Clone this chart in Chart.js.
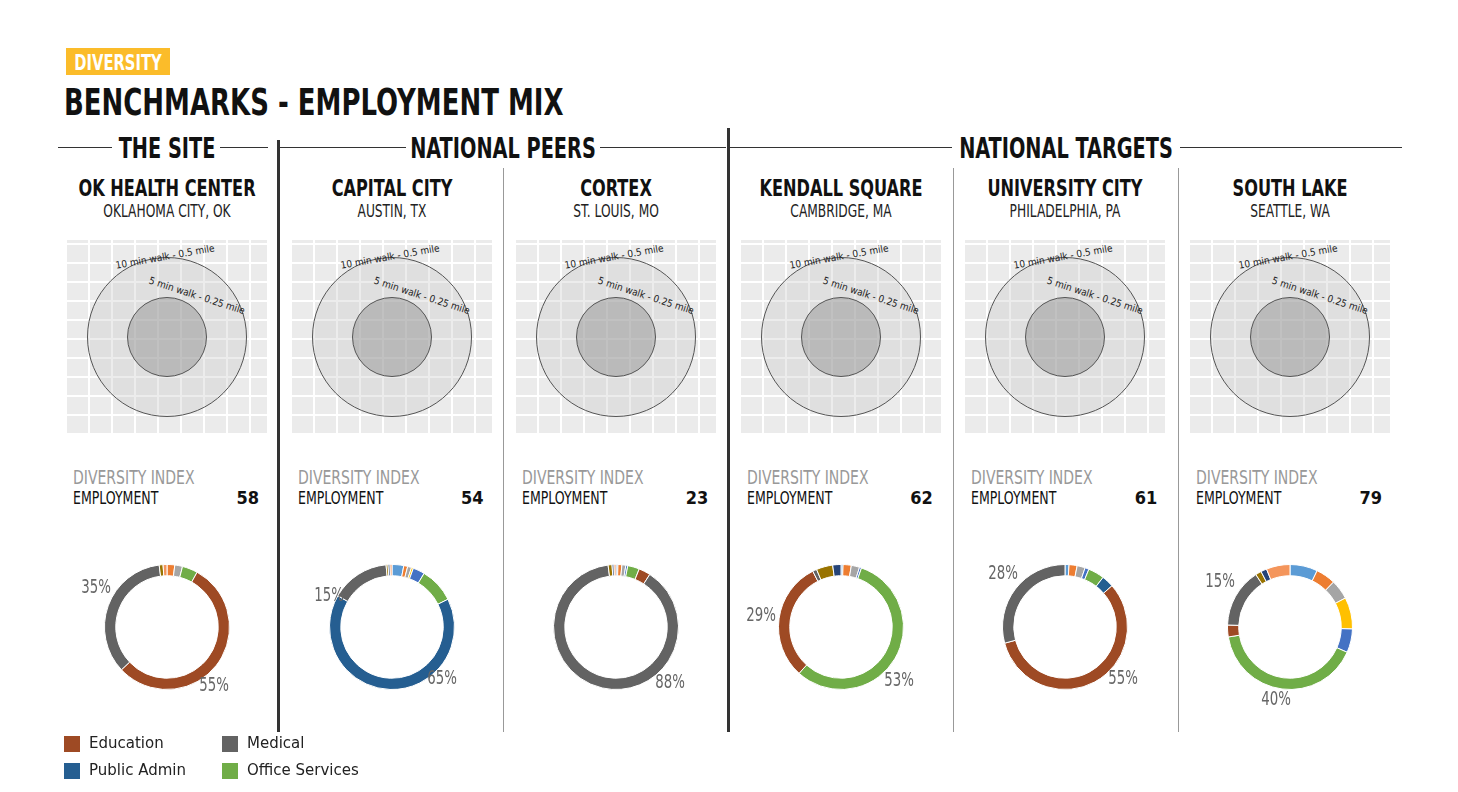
<!DOCTYPE html>
<html><head><meta charset="utf-8">
<script src="https://cdn.jsdelivr.net/npm/chart.js@4"></script>
<style>
body{margin:0;width:1458px;height:792px;background:#fff;position:relative;font-family:"Liberation Sans Narrow","DejaVu Sans Condensed","Roboto",sans-serif;overflow:hidden}
.a{position:absolute;white-space:nowrap}
.tag{left:66px;top:48px;width:104px;height:27px;background:#fbbc2a}
.tagt{left:118px;top:49px;color:#fff;font-weight:bold;font-size:21px;line-height:28px;transform:translateX(-50%) scaleX(.78)}
.title{left:64px;top:80px;font-size:38px;font-weight:bold;color:#111;transform-origin:0 0;transform:scaleX(.76)}
.sec{top:131px;font-size:29px;font-weight:bold;color:#111;transform:translateX(-50%) scaleX(.74)}
.hl{height:1px;background:#333;top:147px}
.vl{width:1px;background:#999}
.vt{width:3px;background:#333}
.name{top:175px;font-size:23px;font-weight:bold;color:#111;transform:translateX(-50%) scaleX(.78)}
.sub{top:201px;font-size:17px;color:#222;transform:translateX(-50%) scaleX(.8)}
.map{width:200px;height:193px;top:240px;background:#e9e9e9;
 background-image:repeating-linear-gradient(0deg,transparent 0 17px,#fff 17px 19px),repeating-linear-gradient(90deg,transparent 0 21px,#fff 21px 23px);opacity:.9}
.circ{border-radius:50%;border:1px solid #555;box-sizing:border-box}
.di{top:466px;font-size:19px;color:#999;transform-origin:0 0;transform:scaleX(.82)}
.emp{top:488px;font-size:17px;color:#111;transform-origin:0 0;transform:scaleX(.82)}
.num{top:487px;font-size:18px;font-weight:bold;color:#111;width:40px;text-align:right}
.pct{font-size:19px;color:#666;transform:translate(-50%,-50%) scaleX(.78)}
.lg{font-family:"DejaVu Sans",sans-serif;font-size:15px;color:#222}
.sw{width:16px;height:16px}
.walk{font-size:10px;color:#222}
</style></head><body>
<div class="a tag"></div>
<div class="a tagt">DIVERSITY</div>
<div class="a title">BENCHMARKS - EMPLOYMENT MIX</div>
<div id="root"></div>
<script>
// category order follows the donut order clockwise from 12 o'clock
const categories = ["Other 1","Other 2","Other 3","Other 4","Other 5","Office Services","Public Admin","Education","Medical","Other 6","Other 7","Other 8"];
const catColors = ["#5b9bd5","#ed7d31","#a5a5a5","#ffc000","#4472c4","#70ad47","#255e91","#9e4a24","#636363","#997300","#264478","#f4955b"];

const siteNames = ["OK HEALTH CENTER","CAPITAL CITY","CORTEX","KENDALL SQUARE","UNIVERSITY CITY","SOUTH LAKE"];
const siteCities = ["OKLAHOMA CITY, OK","AUSTIN, TX","ST. LOUIS, MO","CAMBRIDGE, MA","PHILADELPHIA, PA","SEATTLE, WA"];
const diversityIndex = [58,54,23,62,61,79];

const okHealth   = [0,2,2,0,0,4,0,55,35,1,0,1];
const capitalCity= [3,1,1,0.5,3,9,65,0,15,0.5,0.5,0.5];
const cortex     = [0.5,1,1,0,0.5,3,0,3,88,1,0.5,0.5];
const kendall    = [0.5,2,2,0,0.5,53,0,29,1,4,2,0];
const univCity   = [1,2,2,0,1,4,3,55,28,0,0,0];
const southLake  = [7,5,5,8,6,40,0,3,15,1.5,1.5,6];
const seriesList = [okHealth,capitalCity,cortex,kendall,univCity,southLake];

// percent callouts [text, dx, dy] relative to donut centre
const callouts = [
  [["35%",-71,-41],["55%",47,57]],
  [["15%",-63,-33],["65%",50,50]],
  [["88%",54,54]],
  [["29%",-80,-13],["53%",58,52]],
  [["28%",-62,-55],["55%",58,50]],
  [["15%",-70,-47],["40%",-14,71]]
];

const root = document.getElementById("root");
function el(cls, css, html){const d=document.createElement("div");d.className="a "+cls;Object.assign(d.style,css);if(html!=null)d.innerHTML=html;root.appendChild(d);return d;}

// section headers
el("hl",{left:"58px",width:"54px"}); el("hl",{left:"220px",width:"48px"});
el("sec",{left:"167px"},"THE SITE");
el("hl",{left:"280px",width:"126px"}); el("hl",{left:"600px",width:"126px"});
el("sec",{left:"503px"},"NATIONAL PEERS");
el("hl",{left:"730px",width:"222px"}); el("hl",{left:"1180px",width:"222px"});
el("sec",{left:"1066px"},"NATIONAL TARGETS");
// separators
el("vt",{left:"277px",top:"140px",height:"592px"});
el("vt",{left:"727px",top:"128px",height:"604px"});
[503,953,1178].forEach(x=>el("vl",{left:x+"px",top:"168px",height:"564px"}));

const cx0 = 167, step = 224.6;
siteNames.forEach((n,i)=>{
  const cx = cx0 + i*step;
  el("name",{left:cx+"px"},n);
  el("sub",{left:cx+"px"},siteCities[i]);
  el("map",{left:(cx-100)+"px"});
  el("circ",{left:(cx-80)+"px",top:"257px",width:"160px",height:"160px",background:"rgba(200,200,200,.35)"});
  el("circ",{left:(cx-40)+"px",top:"297px",width:"80px",height:"80px",background:"rgba(150,150,150,.5)"});
  el("walk",{left:(cx-52)+"px",top:"251px",transform:"rotate(-10deg)"},"10 min walk - 0.5 mile");
  el("walk",{left:(cx-20)+"px",top:"290px",transform:"rotate(18deg)"},"5 min walk - 0.25 mile");
  el("di",{left:(cx-94)+"px"},"DIVERSITY INDEX");
  el("emp",{left:(cx-94)+"px"},"EMPLOYMENT");
  el("num",{left:(cx+52)+"px"},diversityIndex[i]);

  const box = el("",{left:(cx-68)+"px",top:"559px",width:"136px",height:"136px"});
  const cv = document.createElement("canvas"); box.appendChild(cv);
  new Chart(cv,{type:"doughnut",
    data:{labels:categories,datasets:[{data:seriesList[i],backgroundColor:catColors,borderColor:"#fff",borderWidth:1}]},
    options:{responsive:true,maintainAspectRatio:false,animation:false,cutout:"82%",
      layout:{padding:5},plugins:{legend:{display:false},tooltip:{enabled:false}}}});
  callouts[i].forEach(c=>el("pct",{left:(cx+c[1])+"px",top:(627+c[2])+"px"},c[0]));
});

// legend (four main categories)
const legendItems = [["Education",7,64,744],["Medical",8,222,744],["Public Admin",6,64,771],["Office Services",5,222,771]];
legendItems.forEach(l=>{
  el("sw",{left:l[2]+"px",top:(l[3]-8)+"px",background:catColors[l[1]]});
  el("lg",{left:(l[2]+25)+"px",top:(l[3]-10)+"px"},l[0]);
});
</script>
</body></html>
